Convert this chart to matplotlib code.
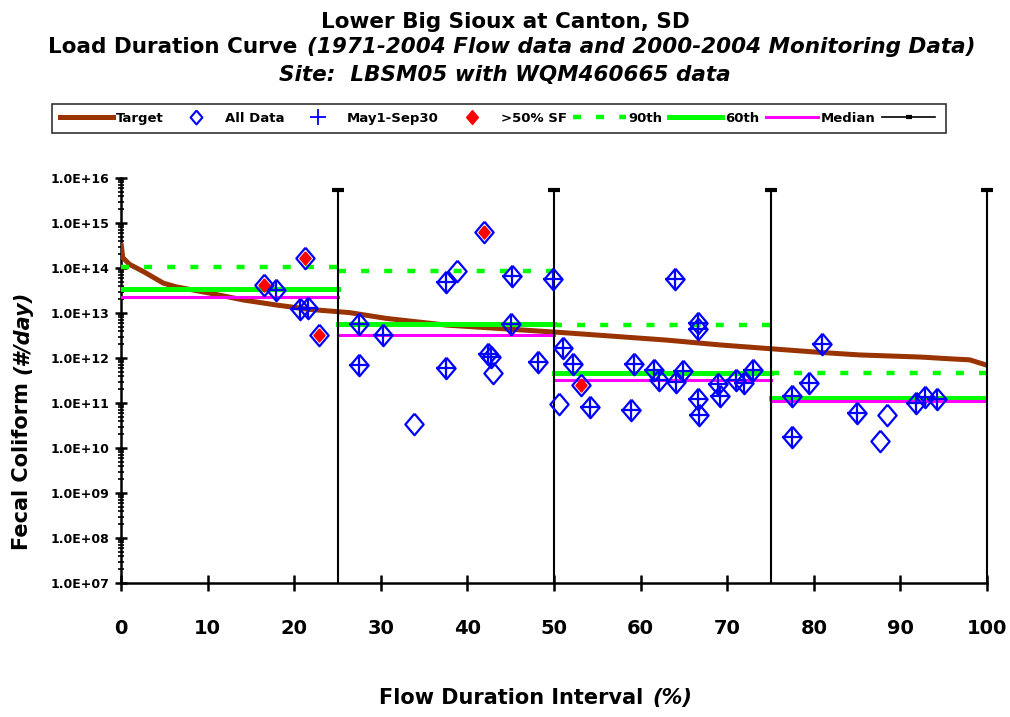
import numpy as np
import matplotlib.pyplot as plt
from matplotlib.lines import Line2D
from matplotlib.ticker import FixedLocator, FuncFormatter, LogLocator, NullFormatter

# target load duration curve
target_x = [0, 0.2, 1.0, 2.6, 4.9, 6.4, 10.3, 14.1, 18.0, 21.8, 26.4, 30.6, 37.5,
            50.7, 55.3, 63.0, 69.2, 76.1, 81.0, 85.3, 92.3, 96.1, 98.0, 100]
target_y = [3.6e14, 1.7e14, 1.2e14, 8.3e13, 4.6e13, 3.8e13, 2.75e13, 1.95e13, 1.5e13,
            1.2e13, 1.02e13, 7.6e12, 5.4e12, 3.7e12, 3.2e12, 2.5e12, 1.95e12, 1.55e12,
            1.32e12, 1.17e12, 1.05e12, 9.5e11, 9.1e11, 6.9e11]

# all monitoring data
all_x = [16.5, 17.9, 21.2, 20.7, 21.6, 22.9,
         27.5, 30.2, 27.5, 33.8, 37.5, 38.8, 37.5, 41.9, 42.4, 42.7, 43.0, 45.2, 45.0, 48.2, 49.9,
         51.0, 52.2, 53.1, 50.6, 54.2, 59.2, 58.9, 61.5, 62.1, 64.0, 64.1, 64.9, 66.6, 66.6,
         66.6, 66.8, 68.9, 69.2, 71.0, 71.9, 73.0,
         77.5, 77.5, 79.4, 81.0, 85.0, 88.5, 87.7, 91.8, 92.8, 94.2]
all_y = [4.2e13, 3.2e13, 1.7e14, 1.2e13, 1.26e13, 3.2e12,
         5.75e12, 3.2e12, 7.1e11, 3.4e10, 5.0e13, 8.7e13, 6.0e11, 6.3e14, 1.2e12, 1.05e12,
         4.6e11, 6.8e13, 5.8e12, 8.3e11, 5.8e13,
         1.7e12, 7.2e11, 2.5e11, 9.5e10, 8.3e10, 7.2e11, 6.9e10, 5.4e11, 3.2e11, 5.8e13,
         2.9e11, 5.1e11, 6.0e12, 4.4e12, 1.2e11, 5.4e10, 2.6e11, 1.45e11, 3.2e11, 2.75e11,
         5.4e11,
         1.45e11, 1.8e10, 2.75e11, 2.0e12, 5.9e10, 5.4e10, 1.4e10, 1.0e11, 1.35e11, 1.2e11]

# samples taken May 1 - Sep 30
may_x = [17.9, 20.7, 21.6,
         27.5, 30.2, 27.5, 37.5, 37.5, 42.4, 42.7, 45.2, 45.0, 48.2, 49.9,
         51.0, 52.2, 54.2, 59.2, 58.9, 61.5, 62.1, 64.0, 64.1, 64.9, 66.6, 66.6,
         66.6, 66.8, 68.9, 69.2, 71.0, 71.9, 73.0,
         77.5, 77.5, 79.4, 81.0, 85.0, 91.8, 92.8, 94.2]
may_y = [3.2e13, 1.2e13, 1.26e13,
         5.75e12, 3.2e12, 7.1e11, 5.0e13, 6.0e11, 1.2e12, 1.05e12, 6.8e13, 5.8e12, 8.3e11, 5.8e13,
         1.7e12, 7.2e11, 8.3e10, 7.2e11, 6.9e10, 5.4e11, 3.2e11, 5.8e13, 2.9e11, 5.1e11,
         6.0e12, 4.4e12, 1.2e11, 5.4e10, 2.6e11, 1.45e11, 3.2e11, 2.75e11, 5.4e11,
         1.45e11, 1.8e10, 2.75e11, 2.0e12, 5.9e10, 1.0e11, 1.35e11, 1.2e11]

# samples with >50% SF
sf_x = [16.5, 21.2, 22.9, 41.9, 53.1]
sf_y = [4.2e13, 1.7e14, 3.2e12, 6.3e14, 2.5e11]

# zone percentiles
zones = [0, 25, 50, 75, 100]
p90 = [1.05e14, 8.5e13, 5.4e12, 4.6e11]
p60 = [3.4e13, 5.75e12, 4.7e11, 1.3e11]
med = [2.25e13, 3.2e12, 3.2e11, 1.12e11]

brown = '#993300'
green = '#00ff00'
magenta = '#ff00ff'
blue = '#0000ff'

diamond = [(0, 1), (0.85, 0), (0, -1), (-0.85, 0), (0, 1)]

fig = plt.figure(figsize=(10.1, 7.17), dpi=100)
ax = fig.add_axes([121/1010, 1-583/717, 866/1010, 405/717])

ax.plot(target_x, target_y, color=brown, lw=3.6, solid_capstyle='butt', zorder=3)

for i in range(4):
    ax.plot([zones[i], zones[i+1]], [p90[i], p90[i]], color=green, lw=3.2,
            linestyle=(0, (1.8, 3.4)), zorder=3)
    ax.plot([zones[i], zones[i+1]], [p60[i], p60[i]], color=green, lw=3.6, zorder=3)
    ax.plot([zones[i], zones[i+1]], [med[i], med[i]], color=magenta, lw=2.2, zorder=3)

for b in zones[1:]:
    ax.plot([b, b], [1e7, 5.4e15], color='k', lw=1.5, marker='_', markevery=[1],
            ms=9, mew=3, zorder=4, clip_on=False)

ax.plot(all_x, all_y, ls='none', marker=diamond, ms=15.5, mfc='none', mec=blue,
        mew=1.6, zorder=5)
ax.plot(may_x, may_y, ls='none', marker='+', ms=14, mec=blue, mew=1.6, zorder=5)
ax.plot(sf_x, sf_y, ls='none', marker=diamond, ms=9.5, mfc='red', mec='red', zorder=6)

ax.set_xlim(0, 100)
ax.set_yscale('log')
ax.set_ylim(1e7, 1e16)
ax.spines['top'].set_visible(False)
ax.spines['right'].set_visible(False)
ax.spines['left'].set_linewidth(1.8)
ax.spines['bottom'].set_linewidth(1.8)

ax.set_xticks(range(0, 101, 10))
ax.tick_params(axis='x', direction='inout', length=12, width=1.8, labelsize=14, pad=20)
ax.yaxis.set_major_locator(FixedLocator([10.0**k for k in range(7, 17)]))
ax.yaxis.set_major_formatter(FuncFormatter(lambda v, p: '1.0E+%02d' % round(np.log10(v))))
ax.yaxis.set_minor_locator(LogLocator(base=10, subs=np.arange(2, 10), numticks=50))
ax.yaxis.set_minor_formatter(NullFormatter())
ax.tick_params(axis='y', which='major', direction='inout', length=9, width=1.8,
               labelsize=9, pad=4)
ax.tick_params(axis='y', which='minor', direction='inout', length=5, width=1.2)
for lab in ax.get_xticklabels() + ax.get_yticklabels():
    lab.set_fontweight('bold')

# titles
fig.text(0.5, 1-22/717, 'Lower Big Sioux at Canton, SD', ha='center', va='center',
         fontsize=15.5, weight='bold')
fig.text(297/1010, 1-47/717, 'Load Duration Curve', ha='right', va='center',
         fontsize=15.5, weight='bold')
fig.text(307/1010, 1-47/717, '(1971-2004 Flow data and 2000-2004 Monitoring Data)',
         ha='left', va='center', fontsize=15.5, weight='bold', style='italic')
fig.text(0.5, 1-75/717, 'Site:  LBSM05 with WQM460665 data', ha='center', va='center',
         fontsize=15.5, weight='bold', style='italic')

# axis labels
fig.text(643/1010, 1-698/717, 'Flow Duration Interval', ha='right', va='center',
         fontsize=15, weight='bold')
fig.text(652/1010, 1-698/717, '(%)', ha='left', va='center', fontsize=15,
         weight='bold', style='italic')
fig.text(22/1010, 1-382/717, 'Fecal Coliform', ha='center', va='top', rotation=90,
         fontsize=15, weight='bold')
fig.text(22/1010, 1-374/717, '(#/day)', ha='center', va='bottom', rotation=90,
         fontsize=15, weight='bold', style='italic')

# legend
handles = [
    Line2D([], [], color=brown, lw=3.6),
    Line2D([], [], ls='none', marker=diamond, ms=10, mfc='none', mec=blue, mew=1.5),
    Line2D([], [], ls='none', marker='+', ms=11, mec=blue, mew=1.3),
    Line2D([], [], ls='none', marker=diamond, ms=10, mfc='red', mec='red'),
    Line2D([], [], color=green, lw=3.2, linestyle=(0, (1.8, 3.4))),
    Line2D([], [], color=green, lw=3.6),
    Line2D([], [], color=magenta, lw=2.2),
    Line2D([], [], color='k', lw=1.2, marker='_', ms=5, mew=3),
]
labels = ['Target', 'All Data', 'May1-Sep30', '>50% SF', '90th', '60th', 'Median', '']
leg = fig.legend(handles, labels, loc='center', bbox_to_anchor=(499/1010, 1-118.5/717),
                 ncol=8, frameon=True, fancybox=False, edgecolor='k',
                 prop={'weight': 'bold', 'size': 9.5}, handlelength=4.0,
                 handletextpad=0.2, columnspacing=0.5, borderpad=0.6)
leg.get_frame().set_linewidth(1.2)

fig.savefig('out.png', dpi=100)
